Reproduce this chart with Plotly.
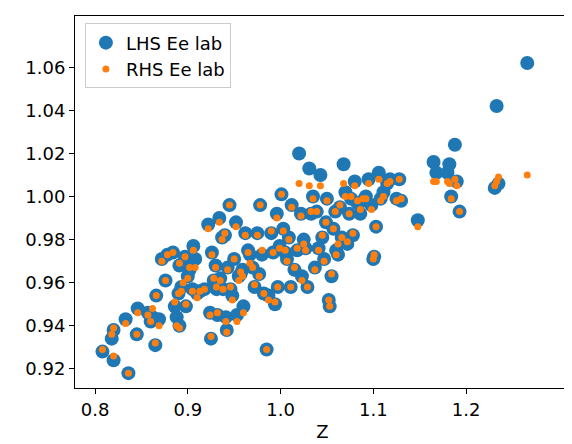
import plotly.graph_objects as go

pts = [(0.808,0.928,0.929),(0.818,0.934,0.936),(0.820,0.924,0.926),(0.820,0.938,0.939),(0.833,0.943,0.941),(0.836,0.918,0.918),(0.845,0.936,0.936),(0.846,0.948,0.946),(0.857,0.946,0.945),(0.860,0.942,0.942),(0.862,0.944,0.948),(0.865,0.931,0.932),(0.866,0.954,0.954),(0.869,0.943,0.940),(0.872,0.971,0.970),(0.876,0.961,0.961),(0.878,0.973,0.973),(0.884,0.974,0.974),(0.886,0.949,0.951),(0.888,0.944,0.940),(0.890,0.955,0.955),(0.891,0.968,0.969),(0.891,0.940,0.939),(0.893,0.958,0.956),(0.895,0.969,0.960),(0.897,0.972,0.972),(0.898,0.949,0.950),(0.900,0.963,0.962),(0.902,0.966,0.967),(0.905,0.957,0.956),(0.906,0.977,0.975),(0.908,0.971,0.967),(0.910,0.955,0.953),(0.913,0.956,0.956),(0.918,0.957,0.957),(0.922,0.987,0.985),(0.924,0.946,0.945),(0.925,0.934,0.935),(0.926,0.974,0.973),(0.928,0.961,0.962),(0.930,0.968,0.967),(0.931,0.957,0.958),(0.932,0.945,0.946),(0.934,0.990,0.988),(0.935,0.962,0.961),(0.937,0.981,0.980),(0.938,0.957,0.957),(0.940,0.982,0.983),(0.941,0.944,0.942),(0.942,0.938,0.937),(0.943,0.967,0.966),(0.945,0.996,0.996),(0.946,0.957,0.958),(0.948,0.954,0.952),(0.950,0.971,0.971),(0.952,0.988,0.986),(0.953,0.945,0.942),(0.955,0.963,0.961),(0.957,0.964,0.965),(0.959,0.966,0.963),(0.960,0.949,0.946),(0.962,0.983,0.982),(0.965,0.975,0.974),(0.967,0.973,0.969),(0.970,0.967,0.967),(0.972,0.958,0.959),(0.975,0.983,0.982),(0.977,0.964,0.963),(0.978,0.996,0.996),(0.980,0.973,0.975),(0.982,0.955,0.955),(0.985,0.929,0.929),(0.987,0.954,0.952),(0.990,0.983,0.984),(0.992,0.974,0.974),(0.994,0.950,0.951),(0.996,0.992,0.990),(0.997,0.958,0.958),(0.999,0.977,0.976),(1.001,1.001,1.001),(1.003,0.985,0.984),(1.005,0.974,0.975),(1.007,0.971,0.970),(1.009,0.981,0.980),(1.011,0.958,0.958),(1.012,0.996,0.995),(1.015,0.966,0.967),(1.018,0.975,0.976),(1.020,1.020,1.006),(1.022,0.992,0.991),(1.023,0.963,0.961),(1.025,0.980,0.978),(1.027,0.976,0.975),(1.029,0.958,0.958),(1.031,1.013,1.005),(1.033,0.992,0.993),(1.035,1.000,0.999),(1.037,0.967,0.966),(1.039,0.993,0.993),(1.041,0.976,0.975),(1.043,1.010,1.005),(1.045,0.981,0.982),(1.047,0.971,0.970),(1.049,0.988,0.988),(1.050,0.999,0.998),(1.052,0.952,0.952),(1.053,0.949,0.949),(1.055,0.963,0.964),(1.057,0.985,0.985),(1.059,0.993,0.993),(1.060,0.975,0.973),(1.062,0.973,0.978),(1.064,0.995,0.996),(1.066,0.981,0.981),(1.068,1.015,1.006),(1.070,1.002,1.000),(1.072,0.978,0.979),(1.074,0.992,0.992),(1.076,0.999,1.000),(1.078,0.982,0.983),(1.080,1.007,1.005),(1.083,0.997,0.998),(1.086,0.992,0.994),(1.089,0.998,0.999),(1.092,1.000,0.999),(1.095,1.008,1.006),(1.098,0.996,0.994),(1.100,0.971,0.971),(1.101,0.972,0.973),(1.103,0.986,0.986),(1.106,1.011,1.008),(1.108,0.999,0.998),(1.111,1.002,1.000),(1.115,1.006,1.006),(1.118,1.008,1.007),(1.125,0.999,0.998),(1.128,1.008,1.008),(1.130,0.998,0.999),(1.148,0.989,0.986),(1.165,1.016,1.007),(1.168,1.011,1.007),(1.180,1.011,1.007),(1.182,1.015,1.006),(1.184,1.000,0.999),(1.188,1.024,1.008),(1.193,0.993,0.993),(1.190,1.007,1.005),(1.231,1.004,1.005),(1.233,1.042,1.007),(1.235,1.006,1.009),(1.266,1.062,1.010)]
z = [p[0] for p in pts]
lhs = [p[1] for p in pts]
rhs = [p[2] for p in pts]

fig = go.Figure()
fig.add_trace(go.Scatter(x=z, y=lhs, mode="markers", name="LHS Ee lab",
                         marker=dict(color="#1f77b4", size=14, line=dict(width=0))))
fig.add_trace(go.Scatter(x=z, y=rhs, mode="markers", name="RHS Ee lab",
                         marker=dict(color="#ff7f0e", size=7, line=dict(width=0))))
ax = dict(showgrid=False, zeroline=False, showline=True, linecolor="black", linewidth=1,
          mirror=True, ticks="outside", ticklen=5, tickcolor="black",
          tickfont=dict(size=18, color="black"))
fig.update_layout(
    width=572, height=444, plot_bgcolor="white", paper_bgcolor="white",
    font=dict(family="DejaVu Sans", color="black"),
    margin=dict(l=67, r=10, t=8, b=64),
    xaxis=dict(ax, range=[0.7784, 1.3121], tickvals=[0.8,0.9,1.0,1.1,1.2],
               ticktext=["0.8","0.9","1.0","1.1","1.2"],
               title=dict(text="Z", font=dict(size=18), standoff=6)),
    yaxis=dict(ax, range=[0.9111, 1.0838], tickvals=[0.92,0.94,0.96,0.98,1.00,1.02,1.04,1.06],
               ticktext=["0.92","0.94","0.96","0.98","1.00","1.02","1.04","1.06"]),
    legend=dict(x=0.02, y=0.98, xanchor="left", yanchor="top", bgcolor="rgba(255,255,255,0.8)",
                bordercolor="#cccccc", borderwidth=1, font=dict(size=18)),
    showlegend=True,
)
fig.write_html("out.html")
